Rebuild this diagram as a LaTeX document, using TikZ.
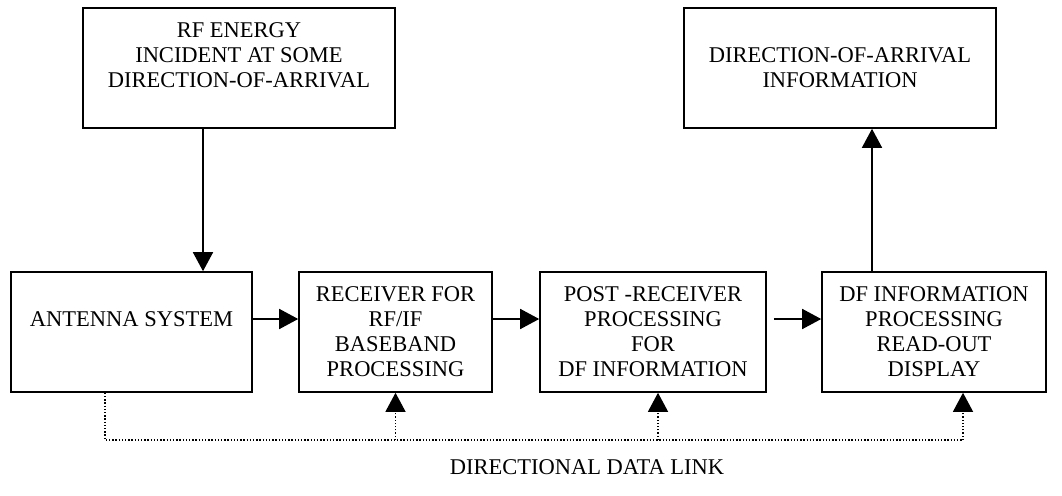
\documentclass[tikz,border=0pt]{standalone}
\usepackage{fontspec}
\setmainfont{Liberation Serif}
\usetikzlibrary{arrows.meta}

\begin{document}
\begin{tikzpicture}[x=1pt, y=-1pt, >={Triangle[length=19pt, width=20pt]},
	box/.style={draw, rectangle, line width=1.6pt, align=center, inner sep=0pt, minimum height=120pt, font=\fontsize{22.5}{25}\selectfont},
	link/.style={line width=1.3pt, dash pattern=on 1.3pt off 1.9pt}]
					\useasboundingbox (0, 0) rectangle (1062, 495);
					\node[box, minimum width=312pt] (rf)at(239, 68) {RF ENERGY\\INCIDENT AT SOME\\DIRECTION-OF-ARRIVAL\\\mbox{}};
					\node[box, minimum width=312pt] (doa)at(840, 68) {DIRECTION-OF-ARRIVAL\\INFORMATION};
					\node[box, minimum width=241pt] (ant)at(131.5, 332) {ANTENNA SYSTEM\\\mbox{}};
					\node[box, minimum width=193pt] (rcv)at(395.5, 332) {RECEIVER FOR\\RF/IF\\BASEBAND\\PROCESSING};
					\node[box, minimum width=226pt] (post)at(653, 332) {POST -RECEIVER\\PROCESSING\\FOR\\DF INFORMATION};
					\node[box, minimum width=224pt] (df)at(934, 332) {DF INFORMATION\\PROCESSING\\READ-OUT\\DISPLAY};
					\node[font=\fontsize{22.5}{25}\selectfont] (lbl)at(587, 467) {DIRECTIONAL DATA LINK};
					\coordinate (dl)at(105, 440);
					\coordinate (dm)at(658, 440);
					\coordinate (dr)at(963, 440);
					\draw[->, line width=1.6pt] ([xshift=-36pt]rf.south) -- ([xshift=-36pt]rf.south |- ant.north);
					\draw[->, line width=1.6pt] ([yshift=13pt]ant.east) -- ([yshift=13pt]rcv.west);
					\draw[->, line width=1.6pt] ([yshift=13pt]rcv.east) -- ([yshift=13pt]post.west);
					\draw[->, line width=1.6pt] ([xshift=7pt, yshift=13pt]post.east) -- ([yshift=13pt]df.west);
					\draw[->, line width=1.6pt] ([xshift=-62pt]df.north) -- ([xshift=-62pt]df.north |- doa.south);
					\draw[link] (dl |- ant.south) -- (dl) -- (dr);
					\draw[link, ->] (rcv.south |- dl) -- (rcv.south);
					\draw[link, ->] (dm) -- (dm |- post.south);
					\draw[link, ->] (dr) -- (dr |- df.south);
				\end{tikzpicture}
\end{document}
